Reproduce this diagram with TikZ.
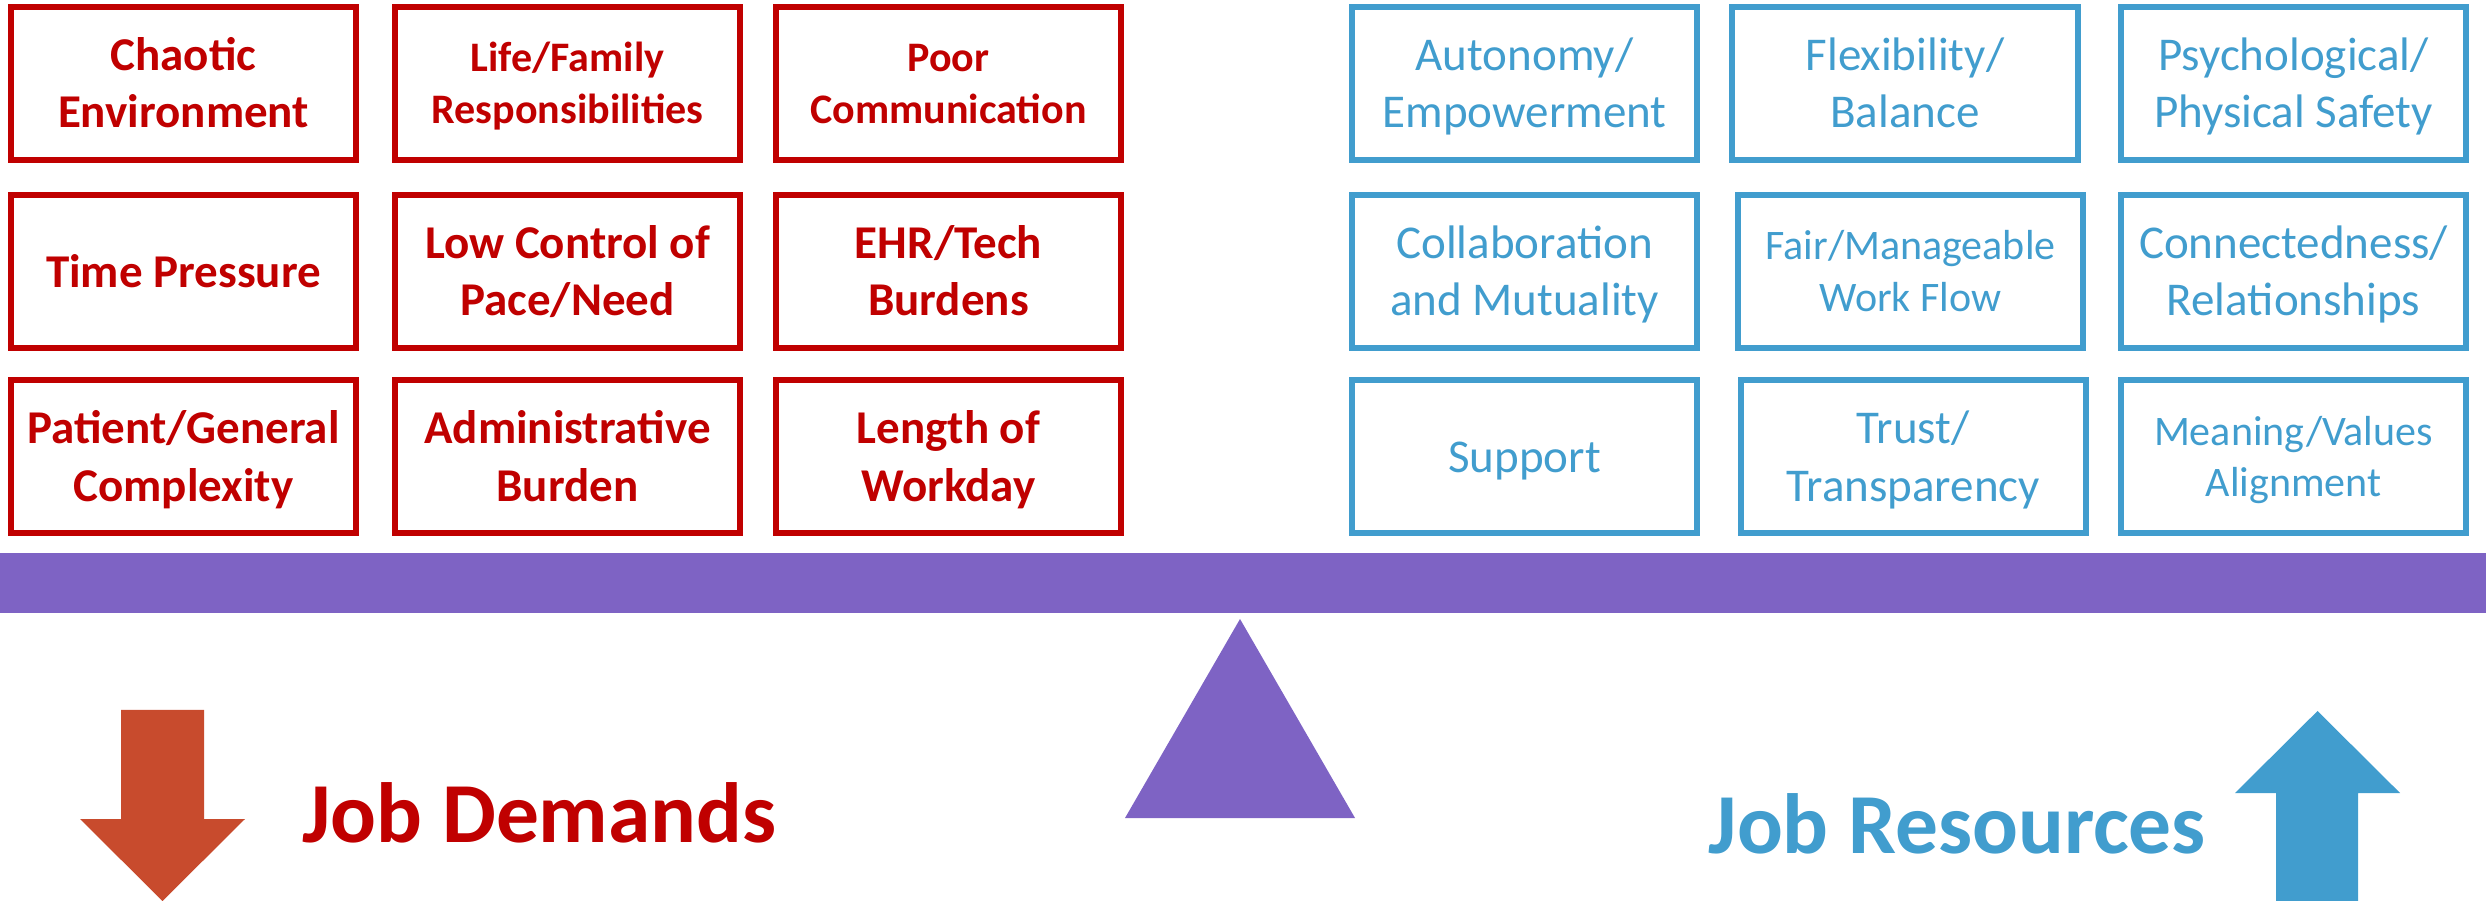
\documentclass[tikz,border=0pt]{standalone}
\usepackage{fontspec}
\setmainfont{Carlito}

\definecolor{dred}{RGB}{192,0,0}
\definecolor{rblue}{RGB}{65,157,206}
\definecolor{beam}{RGB}{126,99,196}
\definecolor{arrred}{RGB}{200,75,45}

% struts so that one- and two-line labels sit centred like slide text
\newcommand\twol[2]{\rule{0pt}{0.98em}#1\\#2\rule[-0.3em]{0pt}{0.3em}}
\newcommand\onel[1]{\rule[-0.3em]{0pt}{1.28em}#1}

\tikzset{
  cell/.style={draw, rectangle, line width=0.06cm, minimum width=3.45cm,
    minimum height=1.53cm, inner sep=0pt, align=center},
  demand/.style={cell, draw=dred, text=dred,
    font=\bfseries\fontsize{13.37}{16.32}\selectfont},
  demandsm/.style={cell, draw=dred, text=dred,
    font=\bfseries\fontsize{11.95}{14.58}\selectfont},
  resource/.style={cell, draw=rblue, text=rblue,
    font=\fontsize{13.37}{16.32}\selectfont},
  resourcesm/.style={cell, draw=rblue, text=rblue,
    font=\fontsize{11.95}{14.58}\selectfont},
  bigtitle/.style={anchor=base west, inner sep=0pt,
    font=\bfseries\fontsize{24.3}{29}\selectfont}
}

\begin{document}
\begin{tikzpicture}[x=0.01cm, y=-0.01cm]
\useasboundingbox (0,0) rectangle (2486,901);

% demands (left grid)
\node[demand]   (d11) at (183.5, 83.1)   {\twol{Chaotic}{Environment}};
\node[demandsm] (d12) at (567.5, 83.1)   {\twol{Life/Family}{Responsibilities}};
\node[demandsm] (d13) at (948.5, 83.1)   {\twol{Poor}{Communication}};
\node[demand]   (d21) at (183.5, 271.25) {\onel{Time Pressure}};
\node[demand]   (d22) at (567.5, 271.25) {\twol{Low Control of}{Pace/Need}};
\node[demand]   (d23) at (948.5, 271.25) {\twol{EHR/Tech}{Burdens}};
\node[demand]   (d31) at (183.5, 456.5)  {\twol{Patient/General}{Complexity}};
\node[demand]   (d32) at (567.5, 456.5)  {\twol{Administrative}{Burden}};
\node[demand]   (d33) at (948.5, 456.5)  {\twol{Length of}{Workday}};

% resources (right grid)
\node[resource]   (r11) at (1524.5, 83.1)   {\twol{Autonomy/}{Empowerment}};
\node[resource]   (r12) at (1905, 83.1)     {\twol{Flexibility/}{Balance}};
\node[resource]   (r13) at (2293.5, 83.1)   {\twol{Psychological/}{Physical Safety}};
\node[resource]   (r21) at (1524.5, 271.25) {\twol{Collaboration}{and Mutuality}};
\node[resourcesm] (r22) at (1910.5, 271.25) {\twol{Fair/Manageable}{Work Flow}};
\node[resource]   (r23) at (2293.5, 271.25) {\twol{Connectedness/}{Relationships}};
\node[resource]   (r31) at (1524.5, 456.5)  {\onel{Support}};
\node[resource]   (r32) at (1913.25, 456.5) {\twol{Trust/}{Transparency}};
\node[resourcesm] (r33) at (2293.5, 456.5)  {\twol{Meaning/Values}{Alignment}};

% the balance: beam and fulcrum
\fill[beam] (0,553) rectangle (2486,613);
\fill[beam] (1240,619) -- (1355,818) -- (1125,818) -- cycle;

% downward arrow for demands
\fill[arrred] (121,710) -- (204,710) -- (204,819) -- (245,819) -- (162.5,901)
  -- (80,819) -- (121,819) -- cycle;
% upward arrow for resources
\fill[rblue] (2317.5,711) -- (2400,793) -- (2358,793) -- (2358,901)
  -- (2276,901) -- (2276,793) -- (2235,793) -- cycle;

\node[bigtitle, text=dred]  (jd) at (302,842)  {Job Demands};
\node[bigtitle, text=rblue] (jr) at (1708,853) {Job Resources};
\end{tikzpicture}
\end{document}
